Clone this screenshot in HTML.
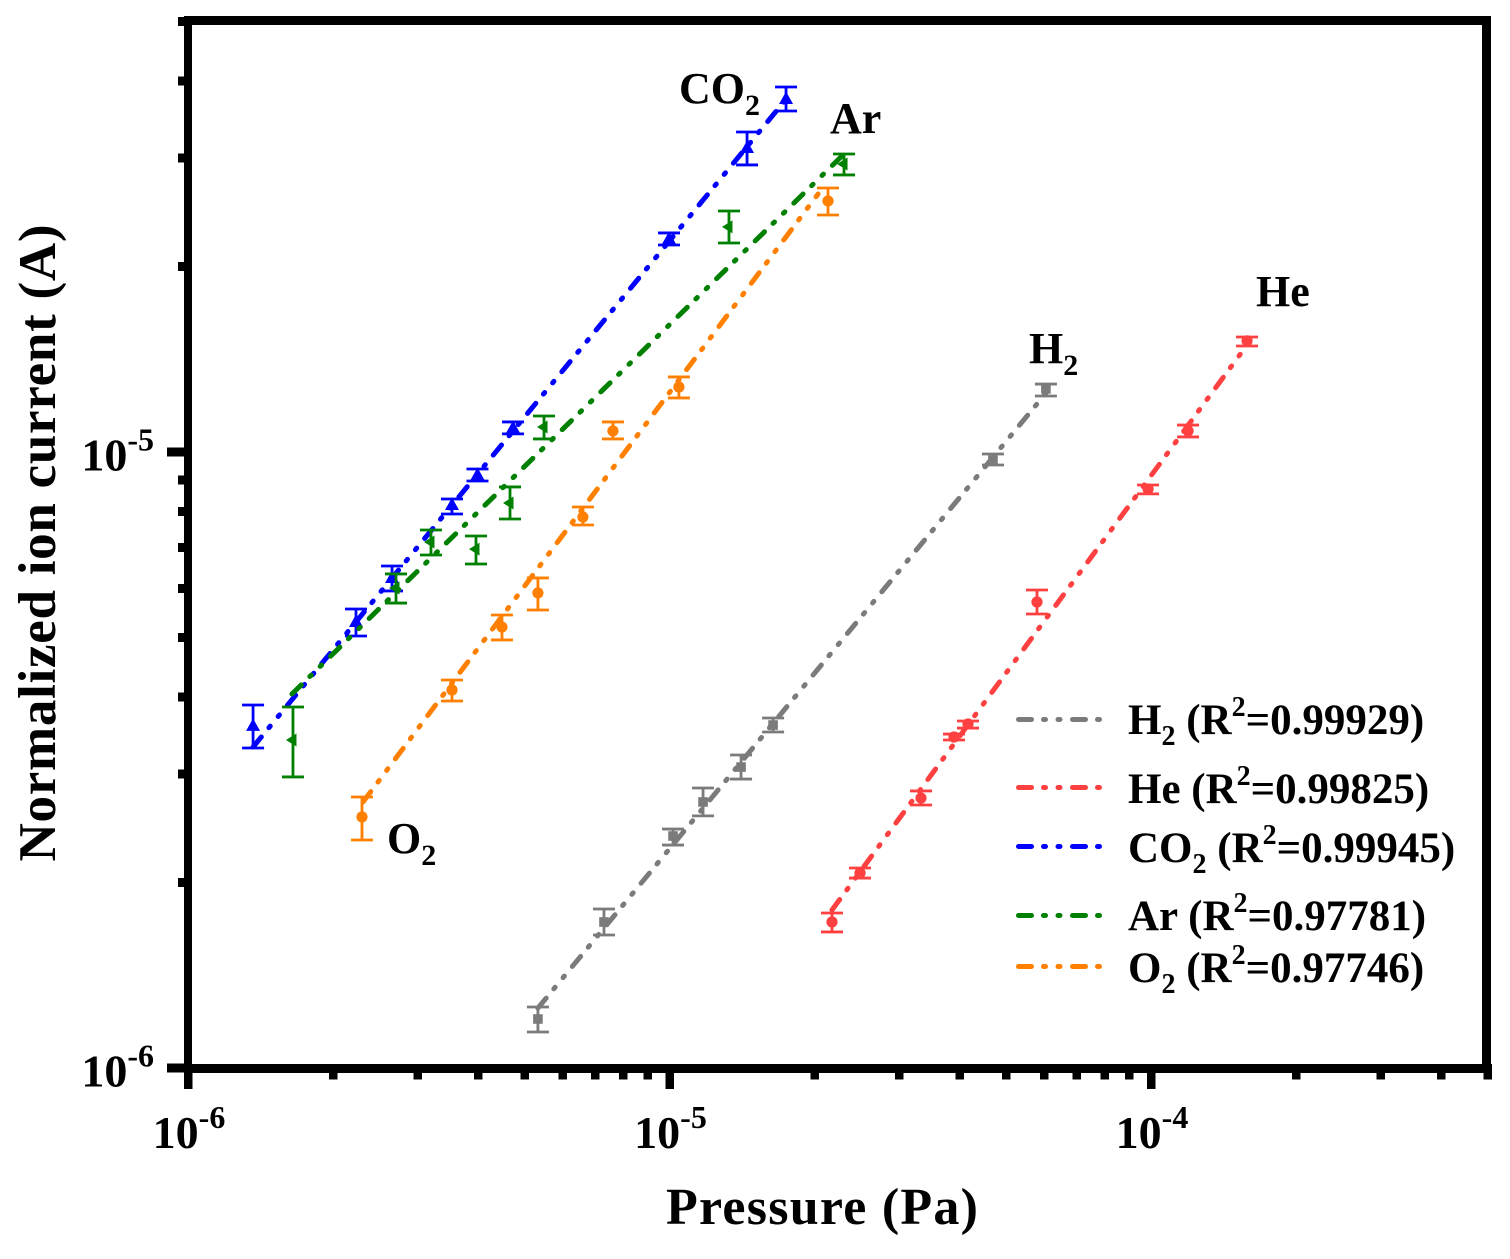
<!DOCTYPE html>
<html lang="en">
<head>
<meta charset="utf-8">
<title>Normalized ion current vs pressure</title>
<style>
html,body{margin:0;padding:0;background:#fff;}
svg{display:block;}
text{font-family:"Liberation Serif",serif;font-weight:bold;fill:#000;}
</style>
</head>
<body>
<svg id="chart" xmlns="http://www.w3.org/2000/svg" width="1510" height="1259" viewBox="0 0 1510 1259">
  <rect x="0" y="0" width="1510" height="1259" fill="#ffffff"/>
  <g id="series-layer"></g>
  <g id="axes-layer"></g>
  <g id="labels-layer"></g>
  <g id="legend-layer"></g>
  <text x="822" y="1224" font-size="52" text-anchor="middle" textLength="312">Pressure (Pa)</text>
  <text x="55" y="543" font-size="53" text-anchor="middle" textLength="637" transform="rotate(-90 55 543)">Normalized ion current (A)</text>
</svg>
<script>
// ---- axis tick values ----
const xMajorTicks = [1e-6, 1e-5, 1e-4];
const xMajorExponents = ['-6', '-5', '-4'];
const xMinorTicks = [2e-6,3e-6,4e-6,5e-6,6e-6,7e-6,8e-6,9e-6,2e-5,3e-5,4e-5,5e-5,6e-5,7e-5,8e-5,9e-5,2e-4,3e-4,4e-4,5e-4];
const yMajorTicks = [1e-6, 1e-5];
const yMajorExponents = ['-6', '-5'];
const yMinorTicks = [2e-6,3e-6,4e-6,5e-6,6e-6,7e-6,8e-6,9e-6,2e-5,3e-5,4e-5,5e-5];

// ---- H2 ----
const h2Pressure = [5.33e-6,7.31e-6,10.17e-6,11.74e-6,14.08e-6,16.41e-6,46.97e-6,60.5e-6];
const h2Current  = [1.201e-6,1.726e-6,2.380e-6,2.703e-6,3.08e-6,3.604e-6,9.705e-6,12.66e-6];
const h2High     = [1.256e-6,1.812e-6,2.443e-6,2.848e-6,3.222e-6,3.70e-6,9.925e-6,12.89e-6];
const h2Low      = [1.144e-6,1.644e-6,2.301e-6,2.566e-6,2.945e-6,3.511e-6,9.526e-6,12.33e-6];
const h2FitPressure = [5.33e-6,60.8e-6];
const h2FitCurrent  = [1.251e-6,12.52e-6];

// ---- He ----
const hePressure = [21.75e-6,24.87e-6,33.29e-6,38.99e-6,41.68e-6,57.97e-6,98.6e-6,119.4e-6,158.3e-6];
const heCurrent  = [1.726e-6,2.073e-6,2.743e-6,3.446e-6,3.618e-6,5.708e-6,8.71e-6,10.82e-6,15.15e-6];
const heHigh     = [1.785e-6,2.112e-6,2.817e-6,3.484e-6,3.659e-6,5.970e-6,8.84e-6,11.06e-6,15.37e-6];
const heLow      = [1.663e-6,2.034e-6,2.673e-6,3.408e-6,3.563e-6,5.458e-6,8.55e-6,10.58e-6,14.86e-6];
const heFitPressure = [21.75e-6,158.3e-6];
const heFitCurrent  = [1.805e-6,14.92e-6];

// ---- CO2 ----
const co2Pressure = [1.365e-6,2.233e-6,2.653e-6,3.534e-6,3.992e-6,4.732e-6,9.977e-6,14.49e-6,17.46e-6];
const co2Current  = [3.592e-6,5.297e-6,6.245e-6,8.204e-6,9.177e-6,10.94e-6,22.17e-6,31.16e-6,37.42e-6];
const co2High     = [3.884e-6,5.561e-6,6.530e-6,8.388e-6,9.384e-6,11.19e-6,22.68e-6,33.07e-6,39.13e-6];
const co2Low      = [3.307e-6,5.027e-6,5.949e-6,7.931e-6,8.973e-6,10.70e-6,21.68e-6,29.24e-6,35.77e-6];
const co2FitPressure = [1.365e-6,17.54e-6];
const co2FitCurrent  = [3.32e-6,37.55e-6];

// ---- Ar ----
const arPressure = [1.652e-6,2.704e-6,3.196e-6,3.964e-6,4.664e-6,5.488e-6,13.29e-6,23.04e-6];
const arCurrent  = [3.408e-6,6.015e-6,7.142e-6,6.957e-6,8.265e-6,10.98e-6,23.20e-6,29.35e-6];
const arHigh     = [3.855e-6,6.339e-6,7.472e-6,7.305e-6,8.776e-6,11.44e-6,24.62e-6,30.46e-6];
const arLow      = [2.968e-6,5.686e-6,6.804e-6,6.579e-6,7.784e-6,10.50e-6,21.84e-6,28.17e-6];
const arFitPressure = [1.644e-6,23.26e-6];
const arFitCurrent  = [4.047e-6,30.69e-6];

// ---- O2 ----
const o2Pressure = [2.298e-6,3.534e-6,4.488e-6,5.33e-6,6.61e-6,7.63e-6,10.46e-6,21.34e-6];
const o2Current  = [2.556e-6,4.108e-6,5.198e-6,5.904e-6,7.842e-6,10.82e-6,12.75e-6,25.56e-6];
const o2High     = [2.754e-6,4.265e-6,5.437e-6,6.245e-6,8.141e-6,11.19e-6,13.24e-6,26.83e-6];
const o2Low      = [2.345e-6,3.943e-6,4.953e-6,5.540e-6,7.611e-6,10.50e-6,12.24e-6,24.25e-6];
const o2FitPressure = [2.309e-6,20.35e-6];
const o2FitCurrent  = [2.703e-6,26.23e-6];

// ---- legend text ----
const legendNames = ['H', 'He', 'CO', 'Ar', 'O'];
const legendSubs = ['2', '', '2', '', '2'];
const legendR2 = ['0.99929', '0.99825', '0.99945', '0.97781', '0.97746'];

const NS = 'http://www.w3.org/2000/svg';
function make(tag, parent) {
  const el = document.createElementNS(NS, tag);
  parent.appendChild(el);
  return el;
}
function setAll(el, props) {
  for (const k in props) el.setAttribute(k, props[k]);
}
function xScale(v) { return 188 + (Math.log10(v) + 6) * 481.5; }
function yScale(v) { return 1068 - (Math.log10(v) + 6) * 616; }

const seriesLayer = document.getElementById('series-layer');
const axesLayer = document.getElementById('axes-layer');
const labelsLayer = document.getElementById('labels-layer');
const legendLayer = document.getElementById('legend-layer');

const DASH = '13 12 2 12.5 2 12.5';

function drawSeries(key, color, marker, px, cur, hi, lo, fitX, fitY) {
  const group = make('g', seriesLayer);
  
  

  const fit = make('line', group);
  
  
  setAll(fit, {x1: xScale(fitX[0]), y1: yScale(fitY[0]), x2: xScale(fitX[1]), y2: yScale(fitY[1]),
    stroke: color, 'stroke-width': 5, 'stroke-linecap': 'round', 'stroke-dasharray': DASH, fill: 'none'});

  px.forEach(function (p, i) {
    const cx = xScale(p), cy = yScale(cur[i]), top = yScale(hi[i]), bot = yScale(lo[i]);
    const bar = make('path', group);
    
    
    setAll(bar, {d: 'M' + (cx - 11) + ' ' + top + 'H' + (cx + 11) + 'M' + (cx - 11) + ' ' + bot + 'H' + (cx + 11) + 'M' + cx + ' ' + top + 'V' + bot,
      stroke: color, 'stroke-width': 2.8, fill: 'none'});

    let m;
    if (marker === 'square') {
      m = make('rect', group);
      setAll(m, {x: cx - 4.8, y: cy - 4.8, width: 9.6, height: 9.6, fill: color});
    } else if (marker === 'circle') {
      m = make('circle', group);
      setAll(m, {cx: cx, cy: cy, r: 5.6, fill: color});
    } else if (marker === 'triangle-up') {
      m = make('polygon', group);
      setAll(m, {points: (cx) + ',' + (cy - 7.5) + ' ' + (cx + 7) + ',' + (cy + 5) + ' ' + (cx - 7) + ',' + (cy + 5), fill: color});
    } else {
      m = make('polygon', group);
      setAll(m, {points: (cx - 7) + ',' + cy + ' ' + (cx + 3.5) + ',' + (cy - 6.5) + ' ' + (cx + 3.5) + ',' + (cy + 6.5), fill: color});
    }
    
    
  });
}

drawSeries('h2', '#7b7b7b', 'square', h2Pressure, h2Current, h2High, h2Low, h2FitPressure, h2FitCurrent);
drawSeries('he', '#ff4040', 'circle', hePressure, heCurrent, heHigh, heLow, heFitPressure, heFitCurrent);
drawSeries('co2', '#0000ff', 'triangle-up', co2Pressure, co2Current, co2High, co2Low, co2FitPressure, co2FitCurrent);
drawSeries('ar', '#008000', 'triangle-left', arPressure, arCurrent, arHigh, arLow, arFitPressure, arFitCurrent);
drawSeries('o2', '#ff8000', 'circle', o2Pressure, o2Current, o2High, o2Low, o2FitPressure, o2FitCurrent);

// ---- axes frame ----
function drawSpine(name, x, y, w, h) {
  const s = make('rect', axesLayer);
  
  
  setAll(s, {x: x, y: y, width: w, height: h, fill: '#000', 'shape-rendering': 'crispEdges'});
}
drawSpine('left-axis-spine', 184, 16, 8, 1057);
drawSpine('right-axis-spine', 1482, 16, 9, 1057);
drawSpine('top-axis-spine', 184, 16, 1307, 9);
drawSpine('bottom-axis-spine', 184, 1064, 1307, 9);

function drawXTick(v, bottomEdge, name) {
  const t = make('rect', axesLayer);
  
  
  setAll(t, {x: xScale(v) - 4, y: 1064, width: 8.5, height: bottomEdge - 1064, fill: '#000', 'shape-rendering': 'crispEdges'});
}
function drawYTick(v, leftEdge, name) {
  const t = make('rect', axesLayer);
  
  
  setAll(t, {x: leftEdge, y: yScale(v) - 4.5, width: 192 - leftEdge, height: 9, fill: '#000', 'shape-rendering': 'crispEdges'});
}
function powerLabel(x, y, anchor, exponent, name) {
  const t = make('text', axesLayer);
  
  
  setAll(t, {x: x, y: y, 'text-anchor': anchor, 'font-size': 46});
  const base = make('tspan', t);
  base.textContent = '10';
  const sup = make('tspan', t);
  setAll(sup, {dy: -20, 'font-size': 32});
  sup.textContent = exponent;
}
xMinorTicks.forEach(function (v) { drawXTick(v, 1079.5, 'x-minor-tick'); });
xMajorTicks.forEach(function (v, i) {
  drawXTick(v, 1089, 'x-major-tick');
  powerLabel(xScale(v) + 1, 1148, 'middle', xMajorExponents[i], 'x-tick-label');
});
yMinorTicks.forEach(function (v) { drawYTick(v, 178, 'y-minor-tick'); });
yMajorTicks.forEach(function (v, i) {
  drawYTick(v, 167, 'y-major-tick');
  powerLabel(154, yScale(v) + 18.5, 'end', yMajorExponents[i], 'y-tick-label');
});

// ---- series labels ----
function seriesLabel(x, y, name, sub, dataName) {
  const t = make('text', labelsLayer);
  
  
  setAll(t, {x: x, y: y, 'font-size': 44});
  const base = make('tspan', t);
  base.textContent = name;
  if (sub) {
    const s = make('tspan', t);
    setAll(s, {dy: 12, 'font-size': 30});
    s.textContent = sub;
  }
}
seriesLabel(679, 103, 'CO', '2', 'co2-label');
seriesLabel(830, 133, 'Ar', '', 'ar-label');
seriesLabel(1256, 306, 'He', '', 'he-label');
seriesLabel(1029, 363, 'H', '2', 'h2-label');
seriesLabel(387, 853, 'O', '2', 'o2-label');

// ---- legend ----
const legendColors = ['#7b7b7b', '#ff4040', '#0000ff', '#008000', '#ff8000'];
const legendLineY = [719.5, 787.5, 846.5, 915.5, 966.5];
const legendTextY = [734, 803, 862, 930, 982];
legendNames.forEach(function (n, i) {
  const ln = make('line', legendLayer);
  
  
  setAll(ln, {x1: 1018.5, y1: legendLineY[i], x2: 1100, y2: legendLineY[i], stroke: legendColors[i],
    'stroke-width': 5, 'stroke-linecap': 'round', 'stroke-dasharray': DASH});

  const t = make('text', legendLayer);
  
  
  setAll(t, {x: 1128, y: legendTextY[i], 'font-size': 43});
  t.setAttribute('xml:space', 'preserve');
  t.style.whiteSpace = 'pre';

  const a = make('tspan', t);
  a.textContent = n;
  let pendingDy = 0;
  if (legendSubs[i]) {
    const s = make('tspan', t);
    setAll(s, {dy: 11, 'font-size': 28});
    s.textContent = legendSubs[i];
    pendingDy = -11;
  }
  const b = make('tspan', t);
  if (pendingDy) b.setAttribute('dy', pendingDy);
  b.textContent = ' (R';
  const sup = make('tspan', t);
  setAll(sup, {dy: -18, 'font-size': 28});
  sup.textContent = '2';
  const c = make('tspan', t);
  c.setAttribute('dy', 18);
  c.textContent = '=' + legendR2[i] + ')';
});
</script>
</body>
</html>
